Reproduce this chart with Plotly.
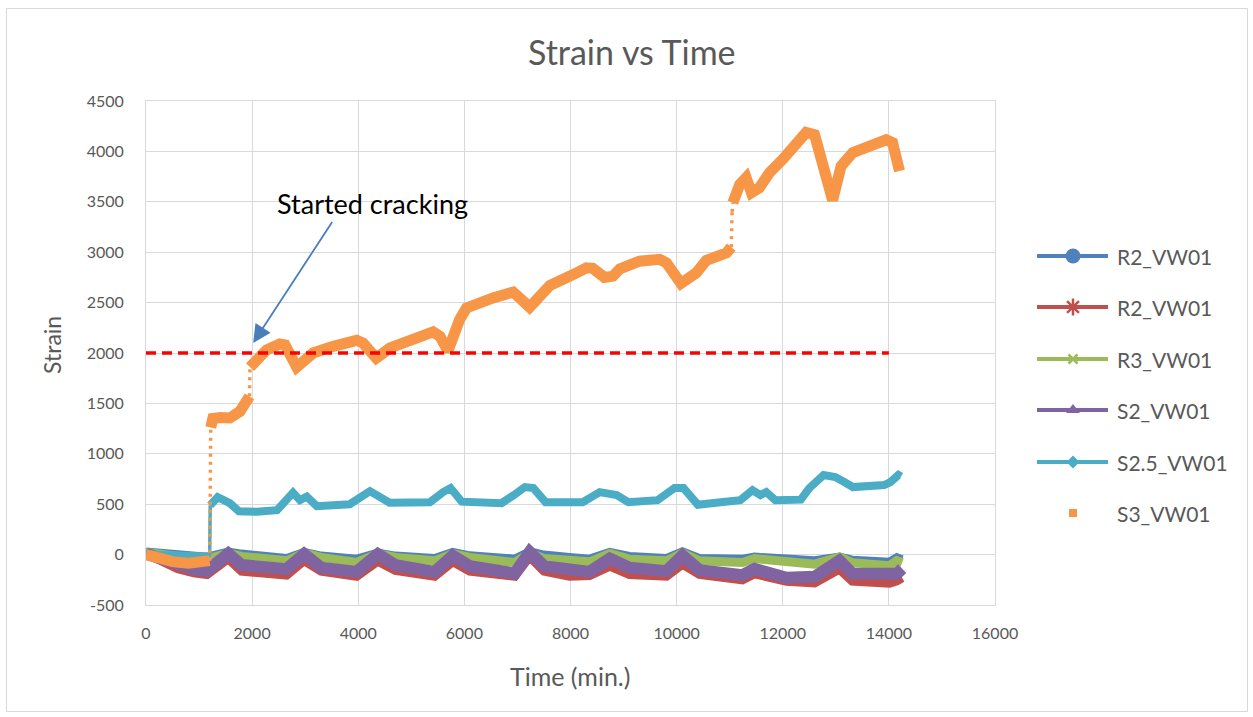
import plotly.graph_objects as go

W, H = 1253, 717
FONT = "Lato"
GREY_TEXT = "#595959"
GRID = "#d9d9d9"

# ---------------- data ----------------
# shared time base (min.) for the four gauges near zero strain
base_time = [0, 300, 600, 900, 1150, 1550, 1800, 2650, 2980, 3300, 3970, 4370, 4700,
             5440, 5780, 6100, 6950, 7230, 7500, 7980, 8360, 8740, 9110, 9810, 10110,
             10430, 11240, 11470, 12070, 12600, 13070, 13310, 14010, 14150, 14250]

r2_a = [30, 15, 0, -10, -20, 30, 10, -33, 27, -10, -40, 20, -10,
        -33, 27, -7, -40, 33, 0, -23, -40, 27, -13, -33, 33,
        -33, -40, -20, -40, -55, -20, -50, -70, -25, -45]

r2_b = [10, -60, -140, -180, -197, -40, -164, -204, -60, -164, -214, -65, -157,
        -214, -70, -164, -214, -20, -164, -214, -207, -114, -197, -214, -94,
        -197, -250, -190, -265, -280, -144, -263, -285, -260, -230]

r3 = [20, -5, -25, -35, -45, 15, -18, -62, 15, -28, -78, 10, -28,
      -62, 10, -28, -78, 15, -38, -62, -72, 10, -45, -62, 15,
      -62, -78, -40, -62, -95, -25, -80, -111, -60, -80]

s2 = [10, -40, -110, -145, -165, 10, -104, -144, 5, -129, -171, 5, -104,
      -171, -10, -114, -187, 25, -114, -154, -171, -40, -129, -164, -10,
      -154, -204, -142, -229, -220, -60, -187, -212, -190, -140]

s25_time = [0, 600, 1150, 1200, 1210, 1350, 1580, 1750, 2090, 2470, 2770, 2900, 3030,
            3220, 3840, 4220, 4590, 5350, 5600, 5740, 5950, 6700, 6930, 7140, 7300,
            7530, 8230, 8550, 8870, 9090, 9640, 9960, 10130, 10400, 10830, 11200,
            11430, 11580, 11690, 11860, 12340, 12500, 12770, 12990, 13160, 13320,
            13910, 14030, 14180, 14230]
s25 = [0, -10, -20, -20, 490, 570, 510, 430, 425, 440, 615, 540, 575,
       480, 500, 630, 515, 520, 620, 660, 525, 510, 590, 670, 660,
       520, 520, 620, 590, 520, 540, 660, 660, 495, 520, 540,
       640, 590, 620, 540, 545, 660, 790, 770, 720, 670,
       690, 720, 790, 775]

s3_time = [0, 250, 500, 800, 1100, 1200,
           1220, 1260, 1400, 1580, 1770, 1900, 1950,
           1960, 2050, 2270, 2520, 2620, 2840, 3150, 3530, 3970, 4090, 4340, 4600,
           5030, 5410, 5540, 5690, 5910, 6040, 6540, 6920, 7230, 7420, 7610, 8050,
           8300, 8420, 8640, 8800, 8930, 9300, 9680, 9810, 10080, 10370, 10560,
           10940, 11030,
           11045, 11060, 11190, 11310, 11410, 11560, 11750, 12000, 12250, 12440,
           12600, 12940, 13100, 13320, 13950, 14070, 14200]
s3 = [0, -40, -70, -85, -85, -60,
      1260, 1350, 1360, 1355, 1420, 1510, 1570,
      1860, 1920, 2030, 2090, 2080, 1860, 2000, 2066, 2125, 2099, 1950, 2050,
      2149, 2210, 2165, 2020, 2331, 2447, 2547, 2605, 2455, 2563, 2670, 2778,
      2845, 2840, 2750, 2762, 2835, 2911, 2930, 2894, 2690, 2795, 2920,
      2994, 3050,
      3400, 3491, 3673, 3740, 3590, 3640, 3789, 3921, 4087, 4187,
      4165, 3515, 3855, 3988, 4115, 4087, 3805]

threshold_time = [0, 14000]
threshold_strain = [2000, 2000]

series_names = ["R2_VW01", "R2_VW01", "R3_VW01", "S2_VW01", "S2.5_VW01", "S3_VW01"]
series_colors = ["#4f81bd", "#c0504d", "#9bbb59", "#8064a2", "#4bacc6", "#f79646"]

x_ticks = [0, 2000, 4000, 6000, 8000, 10000, 12000, 14000, 16000]
y_ticks = [-500, 0, 500, 1000, 1500, 2000, 2500, 3000, 3500, 4000, 4500]


def split_runs(t, s, rate=5.0):
    """Separate gradual portions from near-instant steps in a record."""
    sx, sy, jx, jy = [], [], [], []
    for i in range(len(t)):
        if i > 0:
            dt = t[i] - t[i - 1]
            ds = s[i] - s[i - 1]
            if abs(ds) > rate * max(dt, 1):
                sx.append(None)
                sy.append(None)
                jx += [t[i - 1], t[i], None]
                jy += [s[i - 1], s[i], None]
        sx.append(t[i])
        sy.append(s[i])
    return sx, sy, jx, jy


fig = go.Figure()

bands = [
    (base_time, r2_a, series_colors[0], 8),
    (base_time, r2_b, series_colors[1], 9),
    (base_time, r3, series_colors[2], 9),
    (base_time, s2, series_colors[3], 12),
]
for t, s, c, w in bands:
    fig.add_trace(go.Scatter(x=t, y=s, mode="lines", line=dict(color=c, width=w),
                             showlegend=False, hoverinfo="skip"))

# S2.5: continuous record with a sharp step
sx, sy, jx, jy = split_runs(s25_time, s25)
fig.add_trace(go.Scatter(x=jx, y=jy, mode="lines", line=dict(color=series_colors[4], width=3.5),
                         showlegend=False, hoverinfo="skip"))
fig.add_trace(go.Scatter(x=sx, y=sy, mode="lines", line=dict(color=series_colors[4], width=8),
                         showlegend=False, hoverinfo="skip"))

# S3: marker-only record, steps appear as sparse dots
sx, sy, jx, jy = split_runs(s3_time, s3)
fig.add_trace(go.Scatter(x=jx, y=jy, mode="lines",
                         line=dict(color=series_colors[5], width=3.5, dash="3px,5px"),
                         showlegend=False, hoverinfo="skip"))
fig.add_trace(go.Scatter(x=sx, y=sy, mode="lines", line=dict(color=series_colors[5], width=11),
                         showlegend=False, hoverinfo="skip"))

# 2000 microstrain reference
fig.add_trace(go.Scatter(x=threshold_time, y=threshold_strain, mode="lines",
                         line=dict(color="#ff0000", width=3.5, dash="10px,6px"),
                         showlegend=False, hoverinfo="skip"))

# ---------------- legend drawn on a pixel-space overlay ----------------
leg_rows = [256, 307, 359, 410, 462, 513]
leg_markers = [
    dict(symbol="circle", size=15),
    dict(symbol="asterisk-open", size=14, line=dict(width=2.5)),
    dict(symbol="x-thin-open", size=9, line=dict(width=2.5)),
    dict(symbol="triangle-up", size=12),
    dict(symbol="diamond", size=10),
    dict(symbol="square", size=8),
]
for i, (name, col, y) in enumerate(zip(series_names, series_colors, leg_rows)):
    if i < 5:
        fig.add_trace(go.Scatter(x=[1037, 1108], y=[y, y], mode="lines",
                                 line=dict(color=col, width=4),
                                 xaxis="x2", yaxis="y2", showlegend=False, hoverinfo="skip"))
    m = dict(leg_markers[i])
    m["color"] = col
    if "line" in m:
        m["line"] = dict(m["line"], color=col)
    fig.add_trace(go.Scatter(x=[1073], y=[y], mode="markers", marker=m,
                             xaxis="x2", yaxis="y2", showlegend=False, hoverinfo="skip"))
    fig.add_annotation(x=1115, y=y, xref="x2", yref="y2", text=name, showarrow=False,
                       xanchor="left", yanchor="middle",
                       font=dict(family=FONT, size=21, color=GREY_TEXT))

# ---------------- annotation ----------------
fig.add_annotation(x=2020, y=2100, ax=3527, ay=3315, xref="x", yref="y",
                   axref="x", ayref="y", text="", showarrow=True,
                   arrowhead=2, arrowsize=2, arrowwidth=1.8, arrowcolor="#4a7ebb")
fig.add_annotation(x=4265, y=3484, xref="x", yref="y", text="Started cracking",
                   showarrow=False, xanchor="center", yanchor="middle",
                   font=dict(family=FONT, size=27, color="#000000"))

# titles
fig.add_annotation(x=632 / W, y=1 - 52 / H, xref="paper", yref="paper", text="Strain vs Time",
                   showarrow=False, xanchor="center", yanchor="middle",
                   font=dict(family=FONT, size=34, color=GREY_TEXT))
fig.add_annotation(x=570 / W, y=1 - 676 / H, xref="paper", yref="paper", text="Time (min.)",
                   showarrow=False, xanchor="center", yanchor="middle",
                   font=dict(family=FONT, size=25, color=GREY_TEXT))
fig.add_annotation(x=52 / W, y=1 - 345 / H, xref="paper", yref="paper", text="Strain",
                   showarrow=False, xanchor="center", yanchor="middle", textangle=-90,
                   font=dict(family=FONT, size=23, color=GREY_TEXT))

# chart frame
fig.add_shape(type="rect", xref="paper", yref="paper",
              x0=6.5 / W, x1=1247.5 / W, y0=1 - 711.5 / H, y1=1 - 8.5 / H,
              line=dict(color=GRID, width=1), fillcolor="rgba(0,0,0,0)", layer="below")

axis_common = dict(showgrid=True, gridcolor=GRID, gridwidth=1, zeroline=False,
                   showline=True, linecolor=GRID, mirror=True, ticks="",
                   automargin=False, tickfont=dict(family=FONT, size=16, color=GREY_TEXT))

fig.update_layout(
    template="none",
    width=W, height=H, autosize=False,
    margin=dict(l=0, r=0, t=0, b=0, pad=0, autoexpand=False),
    paper_bgcolor="white", plot_bgcolor="rgba(0,0,0,0)",
    font=dict(family=FONT, color=GREY_TEXT),
    showlegend=False,
    xaxis=dict(domain=[146 / W, 995 / W], range=[0, 16000], tickvals=x_ticks,
               ticktext=[str(v) for v in x_ticks], ticklabelstandoff=14, **axis_common),
    yaxis=dict(domain=[1 - 605 / H, 1 - 101 / H], range=[-500, 4500], tickvals=y_ticks,
               ticktext=[str(v) for v in y_ticks], ticklabelstandoff=18, **axis_common),
    xaxis2=dict(domain=[0, 1], range=[0, W], visible=False, fixedrange=True, automargin=False),
    yaxis2=dict(domain=[0, 1], range=[H, 0], visible=False, fixedrange=True, automargin=False),
)

fig.write_html("out.html", config={"displayModeBar": False})
